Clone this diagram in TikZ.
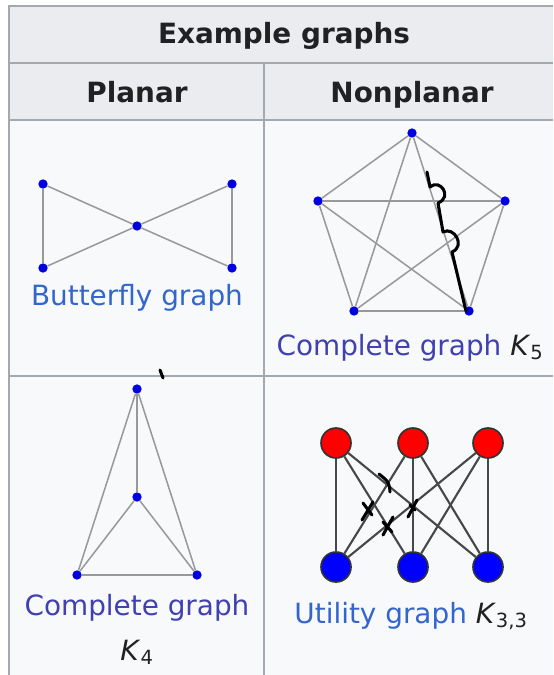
\documentclass[tikz,border=0pt]{standalone}
\usepackage{fontspec}
\setmainfont{DejaVu Sans}
\usetikzlibrary{positioning}
\definecolor{hdrgray}{HTML}{EAECF0}
\definecolor{cellgray}{HTML}{F8F9FA}
\definecolor{rulegray}{HTML}{A2A9B1}
\definecolor{linkblue}{HTML}{3366CC}
\definecolor{linkvisit}{HTML}{4040B0}
\definecolor{txtdark}{HTML}{202122}
\definecolor{edgegray}{HTML}{999999}
\definecolor{dotblue}{HTML}{0000E0}
\newcommand\lblfont{\fontsize{23.8}{28}\selectfont}

\begin{document}
\begin{tikzpicture}[x=0.03cm,y=-0.03cm,
   vtx/.style={circle,fill=dotblue,inner sep=0,minimum size=0.28cm},
   bigv/.style={circle,draw=black!80,line width=1.4pt,inner sep=0,minimum size=0.9cm},
   edg/.style={draw=edgegray,line width=1.3pt},
   uedg/.style={draw=black!72,line width=1.8pt},
   rule/.style={draw=rulegray,line width=1pt},
   hdr/.style={anchor=base,font=\lblfont\bfseries,text=txtdark,inner sep=0},
   glbl/.style={anchor=base,font=\lblfont,inner sep=0},
   pen/.style={draw=black,line width=2.6pt,line cap=round,line join=round}]
  \useasboundingbox (0,0) rectangle (553,675);
  % table cells
  \fill[hdrgray] (9,6) rectangle (553,120);
  \fill[cellgray] (9,120) rectangle (553,675);
  \draw[rule] (553,6) -- (9,6) -- (9,675);
  \draw[rule] (9,63) -- (553,63);
  \draw[rule] (9,120) -- (553,120);
  \draw[rule] (9,376) -- (553,376);
  \draw[rule] (264,63) -- (264,675);
  \node[hdr] (title) at (284,44) {Example graphs};
  \node[hdr] (planar) at (137,102) {Planar};
  \node[hdr] (nonplanar) at (412,102) {Nonplanar};
  % butterfly graph
  \node[vtx] (b1) at (43,184) {};
  \node[vtx] (b2) at (232,184) {};
  \node[vtx] (bc) at (137,226) {};
  \node[vtx] (b3) at (43,268) {};
  \node[vtx] (b4) at (232,268) {};
  \draw[edg] (b1) -- (b3);
  \draw[edg] (b2) -- (b4);
  \draw[edg] (b1) -- (bc);
  \draw[edg] (b3) -- (bc);
  \draw[edg] (bc) -- (b2);
  \draw[edg] (bc) -- (b4);
  \node[glbl,text=linkblue] (bl) at (137,305) {Butterfly graph};
  % complete graph K5
  \node[vtx] (f1) at (412,133) {};
  \node[vtx] (f2) at (318,201) {};
  \node[vtx] (f3) at (505,201) {};
  \node[vtx] (f4) at (354,311) {};
  \node[vtx] (f5) at (469,311) {};
  \draw[edg] (f1) -- (f2);
  \draw[edg] (f1) -- (f3);
  \draw[edg] (f1) -- (f4);
  \draw[edg] (f1) -- (f5);
  \draw[edg] (f2) -- (f3);
  \draw[edg] (f2) -- (f4);
  \draw[edg] (f2) -- (f5);
  \draw[edg] (f3) -- (f4);
  \draw[edg] (f3) -- (f5);
  \draw[edg] (f4) -- (f5);
  \node[glbl] (fl) at (410,355) {\textcolor{linkvisit}{Complete graph} \textcolor{txtdark}{\textit{K}\textsubscript{5}}};
  \coordinate (h1) at (427,172);
  \coordinate (h2) at (430,187);
  \coordinate (h3) at (438,203);
  \coordinate (h4) at (443,232);
  \coordinate (h5) at (452,252);
  \coordinate (h6) at (466,311);
  \draw[pen] (h1) -- (h2) .. controls (440,178) and (453,197) .. (h3) -- (h4)
     .. controls (454,226) and (466,246) .. (h5) -- (h6);
  % complete graph K4
  \node[vtx] (k1) at (137,389) {};
  \node[vtx] (k2) at (137,497) {};
  \node[vtx] (k3) at (77,575) {};
  \node[vtx] (k4) at (197,575) {};
  \draw[edg] (k1) -- (k2);
  \draw[edg] (k1) -- (k3);
  \draw[edg] (k1) -- (k4);
  \draw[edg] (k2) -- (k3);
  \draw[edg] (k2) -- (k4);
  \draw[edg] (k3) -- (k4);
  \node[glbl,text=linkvisit] (kl) at (137,615) {Complete graph};
  \node[glbl,text=txtdark] (kk) at (137,660) {\textit{K}\textsubscript{4}};
  \coordinate (t1) at (160,370);
  \coordinate (t2) at (163,378);
  \draw[pen] (t1) -- (t2);
  % utility graph K3,3
  \node[bigv,fill=red] (r1) at (336,443) {};
  \node[bigv,fill=red] (r2) at (413,443) {};
  \node[bigv,fill=red] (r3) at (488,443) {};
  \node[bigv,fill=blue] (u1) at (336,567) {};
  \node[bigv,fill=blue] (u2) at (413,567) {};
  \node[bigv,fill=blue] (u3) at (488,567) {};
  \draw[uedg] (r1) -- (u1);
  \draw[uedg] (r1) -- (u2);
  \draw[uedg] (r1) -- (u3);
  \draw[uedg] (r2) -- (u1);
  \draw[uedg] (r2) -- (u2);
  \draw[uedg] (r2) -- (u3);
  \draw[uedg] (r3) -- (u1);
  \draw[uedg] (r3) -- (u2);
  \draw[uedg] (r3) -- (u3);
  \node[glbl] (ul) at (411,623) {\textcolor{linkblue}{Utility graph} \textcolor{txtdark}{\textit{K}\textsubscript{3,3}}};
  \draw[pen] (379,474) -- (384,478) .. controls (388,481) and (390,486) .. (390,492);
  \draw[pen] (373,502) -- (362,520);
  \draw[pen] (363,503) -- (372,515);
  \draw[pen] (393,517) -- (383,535);
  \draw[pen] (383,522) -- (392,532);
  \draw[pen] (417,500) -- (408,517);
  \draw[pen] (410,505) -- (415,510);
\end{tikzpicture}
\end{document}
